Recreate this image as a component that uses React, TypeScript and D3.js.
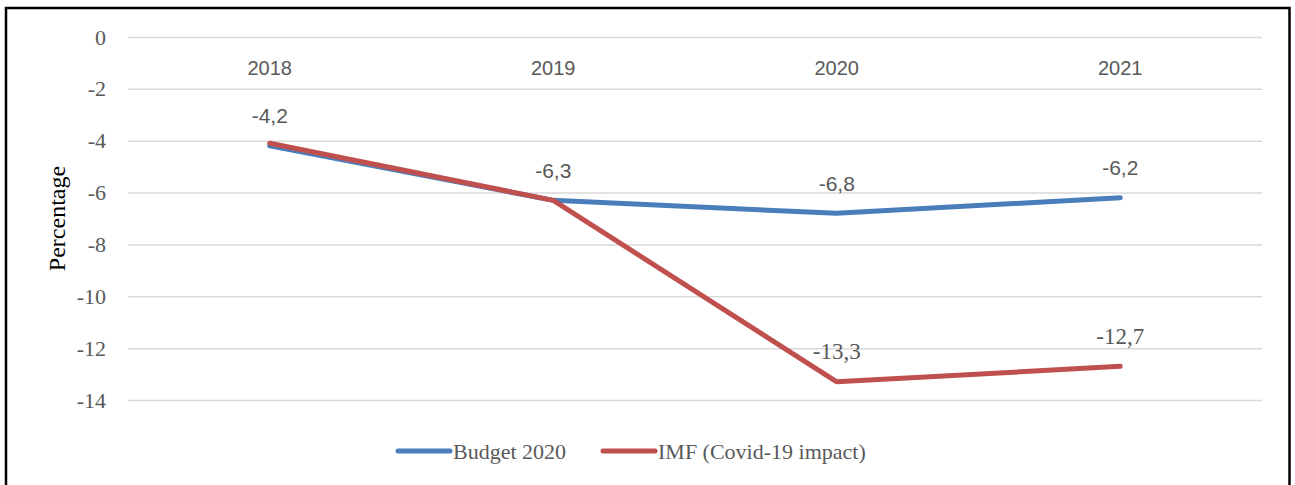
import React, { useEffect, useRef } from "react";
import * as d3 from "d3";

// chart data
const years = ["2018", "2019", "2020", "2021"];
const budget2020 = [-4.2, -6.3, -6.8, -6.2];
const imfCovid = [-4.1, -6.3, -13.3, -12.7];
const yTicks = [0, -2, -4, -6, -8, -10, -12, -14];
// which data labels are visible in the original
const budgetLabelShown = [true, true, true, true];
const imfLabelShown = [false, false, true, true];

const W = 1295;
const H = 485;

const App = () => {
  const ref = useRef<SVGSVGElement>(null);

  useEffect(() => {
    const svg = d3.select(ref.current);
    svg.selectAll("*").remove();

    const margin = { top: 37, right: 33, bottom: 85, left: 128 };
    const serif = "'Liberation Serif', 'Times New Roman', serif";
    const sans = "'Liberation Sans', Arial, sans-serif";
    const grey = "#595959";

    const x = d3
      .scalePoint<string>()
      .domain(years)
      .range([margin.left, W - margin.right])
      .padding(0.5);

    const y = d3
      .scaleLinear()
      .domain([-14, 0])
      .range([H - margin.bottom, margin.top]);

    // frame
    svg
      .append("rect")
      .attr("x", 6)
      .attr("y", 8)
      .attr("width", 1283.5)
      .attr("height", 500)
      .attr("fill", "#fff")
      .attr("stroke", "#000")
      .attr("stroke-width", 2.5);

    // gridlines + tick labels
    const yAxis = (g: any) =>
      g
        .attr("transform", `translate(${margin.left},0)`)
        .call(
          d3
            .axisLeft(y)
            .tickValues(yTicks)
            .tickSize(-(W - margin.left - margin.right))
            .tickPadding(22)
            .tickFormat((d: any) => String(d))
        )
        .attr("font-family", serif)
        .attr("font-size", 22)
        .call((g: any) => g.select(".domain").remove())
        .call((g: any) =>
          g.selectAll(".tick line").attr("stroke", "#d9d9d9").attr("stroke-width", 1.5)
        )
        .call((g: any) =>
          g
            .selectAll(".tick text")
            .attr("fill", grey)
            .attr("font-family", serif)
            .attr("font-size", 22)
        );
    svg.append("g").call(yAxis);

    // category labels under the zero line
    svg
      .append("g")
      .selectAll("text")
      .data(years)
      .join("text")
      .attr("x", (d) => x(d)!)
      .attr("y", y(0) + 31)
      .attr("text-anchor", "middle")
      .attr("dominant-baseline", "central")
      .attr("font-family", sans)
      .attr("font-size", 20)
      .attr("fill", grey)
      .text((d) => d);

    // axis title
    svg
      .append("text")
      .attr("transform", `translate(57,${(y(0) + y(-14)) / 2}) rotate(-90)`)
      .attr("text-anchor", "middle")
      .attr("dominant-baseline", "central")
      .attr("font-family", serif)
      .attr("font-size", 24)
      .attr("fill", "#000")
      .text("Percentage");

    const series = [
      { name: "Budget 2020", values: budget2020, color: "#4a7ebb", font: sans, size: 21, shown: budgetLabelShown },
      { name: "IMF (Covid-19 impact)", values: imfCovid, color: "#c0504d", font: serif, size: 23, shown: imfLabelShown },
    ];

    const line = d3
      .line<number>()
      .x((d, i) => x(years[i])!)
      .y((d) => y(d));

    series.forEach((s) => {
      svg
        .append("path")
        .datum(s.values)
        .attr("d", line)
        .attr("fill", "none")
        .attr("stroke", s.color)
        .attr("stroke-width", 5)
        .attr("stroke-linecap", "round")
        .attr("stroke-linejoin", "round");
    });

    series.forEach((s) => {
      svg
        .append("g")
        .selectAll("text")
        .data(s.values.map((v, i) => ({ v, i })).filter((d) => s.shown[d.i]))
        .join("text")
        .attr("x", (d) => x(years[d.i])!)
        .attr("y", (d) => y(d.v) - 30)
        .attr("text-anchor", "middle")
        .attr("dominant-baseline", "central")
        .attr("font-family", s.font)
        .attr("font-size", s.size)
        .attr("fill", grey)
        .text((d) => String(d.v).replace(".", ","));
    });

    // legend
    const legend = svg.append("g").attr("transform", "translate(0,451)");
    const legendX = [398, 603];
    series.forEach((s, i) => {
      legend
        .append("line")
        .attr("x1", legendX[i])
        .attr("x2", legendX[i] + 52)
        .attr("y1", 0)
        .attr("y2", 0)
        .attr("stroke", s.color)
        .attr("stroke-width", 5)
        .attr("stroke-linecap", "round");
      legend
        .append("text")
        .attr("x", legendX[i] + 55)
        .attr("y", 0)
        .attr("dominant-baseline", "central")
        .attr("font-family", serif)
        .attr("font-size", 22)
        .attr("fill", grey)
        .text(s.name);
    });
  }, []);

  return (
    <svg
      ref={ref}
      width={W}
      height={H}
      style={{ position: "absolute", left: 0, top: 0, background: "#fff" }}
    />
  );
};

export default App;
